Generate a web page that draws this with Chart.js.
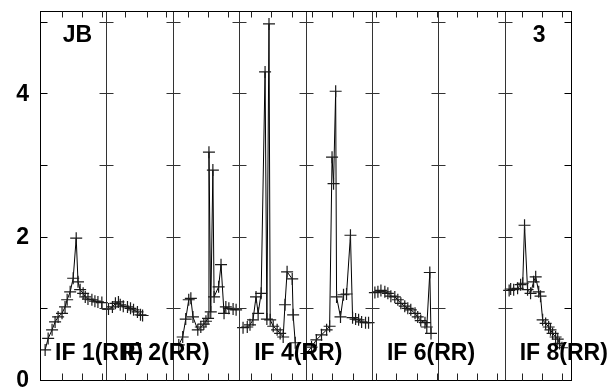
<!DOCTYPE html>
<html>
<head>
<meta charset="utf-8">
<script src="https://cdn.jsdelivr.net/npm/chart.js@4/dist/chart.umd.min.js"></script>
<style>
  html, body { margin: 0; padding: 0; background: #fff; }
  #wrap { width: 613px; height: 391px; }
</style>
</head>
<body>
<div id="wrap"><canvas id="c" width="613" height="391"></canvas></div>
<script>
// ---- data (channel within panel, amplitude) ----
const CH = 22;          // channels per IF panel
const NPANEL = 8;
const chan1 = [1.7,2.7,4,5,6,7.3,8.3,9,10,11,12,12.6,13.3,14.3,15,15.9,17.2,18.2,19.2,20.5];
const amp1  = [0.42,0.58,0.70,0.81,0.88,0.93,1.02,1.12,1.23,1.42,1.98,1.37,1.26,1.21,1.16,1.13,1.12,1.10,1.09,1.08];
const chan2 = [0.7,2,3,4,4.6,5.6,7,8,9,10.3,11.3,12];
const amp2  = [0.99,1.02,1.07,1.09,1.05,1.03,1.02,1.00,0.98,0.95,0.91,0.90];
const chan3 = [2,3.3,4.3,5.3,6,6.7,8.3,9.3,10.3,11,11.7,12,12.6,13.3,13.7,15.2,16,17,17.6,18.6,20,21];
const amp3  = [0.49,0.60,0.85,1.12,1.14,0.88,0.70,0.74,0.78,0.82,0.86,3.18,0.95,2.93,1.16,1.30,1.61,0.93,1.02,1.00,0.99,0.98];
const chan4 = [1.3,2.7,3.6,4.6,5.6,6.3,7.3,8.6,9.2,9.9,10.3,11.3,12.6,13.6,14.6,15.2,15.9,17.6,17.9,18.6];
const amp4  = [0.73,0.74,0.77,0.84,1.16,0.93,1.21,4.30,0.85,4.97,0.84,0.75,0.70,0.65,0.60,1.05,1.51,1.41,0.91,0.52];
const chan5 = [0.3,2,3.6,5.3,7,8,8.8,9.3,10,10.3,11.6,12.6,13.6,14.9,15.6,16.6,17.6,18.6,19.9,20.9];
const amp5  = [0.37,0.46,0.56,0.63,0.70,0.75,3.11,2.74,4.03,1.16,0.88,1.19,1.20,2.02,0.87,0.85,0.84,0.81,0.80,0.80];
const chan6 = [1,2,3,4.3,5.3,6.3,7.6,8.6,9.6,10.9,11.9,12.9,14.3,15.2,16.2,17.6,18.2,19.2,19.6];
const amp6  = [1.22,1.23,1.25,1.23,1.21,1.17,1.16,1.12,1.07,1.03,1.00,0.98,0.93,0.88,0.83,0.80,0.74,1.50,0.65];
const chan8 = [1.5,2,3,4.3,5.3,6,6.6,7.6,8.6,9.6,10.3,11.3,11.9,12.6,13.6,14.6,15.2,15.9,16.9,17.6,18.2,19];
const amp8  = [1.25,1.27,1.26,1.28,1.33,1.35,2.16,1.26,1.21,1.37,1.44,1.23,1.17,0.84,0.79,0.74,0.70,0.65,0.60,0.57,0.51,0.45];

const seriesPanels = [0, 1, 2, 3, 4, 5, 7];
const seriesChans  = [chan1, chan2, chan3, chan4, chan5, chan6, chan8];
const seriesAmps   = [amp1, amp2, amp3, amp4, amp5, amp6, amp8];

// labels
const ifLabels      = ["IF 1(RR)", "IF 2(RR)", "IF 4(RR)", "IF 6(RR)", "IF 8(RR)"];
const ifLabelPanels = [0, 1, 3, 5, 7];
const sourceLabel = "JB";
const sourceLabelPanel = 0;
const pageLabel = "3";
const pageLabelPanel = 7;

// y ticks
const yTicks      = [0, 1, 2, 3, 4, 5];
const yTickLabels = ["0", "", "2", "", "4", ""];
const yMax = 5.15;

// x minor tick positions (global channel units)
const xMinorTicks = [7.3,13.9,20.5,28.3,35.3,41.9,49,55.6,62.2,70,76.6,83.6,90,96.9,103.6,111.3,118,124.9,131.5,138.3,144.9,151.6,159.6,166.3,172.9];

const toPts = (p, ch, am) => ch.map((c, i) => ({ x: p * CH + c, y: am[i] }));

const datasets = seriesPanels.map((p, k) => ({
  data: toPts(p, seriesChans[k], seriesAmps[k]),
  borderColor: '#000',
  borderWidth: 1,
  pointStyle: 'cross',
  pointRadius: 6,
  pointBorderColor: '#1a1a1a',
  pointBorderWidth: 1.2,
  pointBackgroundColor: '#000',
  fill: false,
  tension: 0
}));
// connecting segment between IF 1 tail and IF 2 head (as in the reference trace)
const d1 = datasets[0].data, d2 = datasets[1].data;
datasets.push({
  data: [d1[d1.length - 1], d2[0]],
  borderColor: '#000', borderWidth: 1, pointRadius: 0, fill: false, tension: 0, stepped: 'after'
});

const FONT = 'bold 23px "Liberation Sans", Arial, sans-serif';

const framePlugin = {
  id: 'frame',
  afterDatasetsDraw(chart) {
    const { ctx, chartArea: a, scales: { x, y } } = chart;
    ctx.save();
    ctx.strokeStyle = '#000';
    ctx.lineWidth = 1;
    for (let p = 0; p <= NPANEL; p++) {
      const px = Math.round(x.getPixelForValue(p * CH)) + 0.5;
      ctx.strokeStyle = (p === 0 || p === NPANEL) ? '#000' : '#333';
      ctx.beginPath(); ctx.moveTo(px, a.top); ctx.lineTo(px, a.bottom); ctx.stroke();
      yTicks.forEach(v => {
        if (v === 0) return;
        const py = Math.round(y.getPixelForValue(v)) + 0.5;
        const l = p === 0 ? 0 : 7, r = p === NPANEL ? 0 : 7;
        ctx.beginPath(); ctx.moveTo(px - l, py); ctx.lineTo(px + r, py); ctx.stroke();
      });
    }
    ctx.strokeStyle = '#000';
    const topY = Math.round(a.top) + 0.5, botY = Math.round(a.bottom) + 0.5;
    ctx.beginPath(); ctx.moveTo(a.left, topY); ctx.lineTo(a.right + 1, topY); ctx.stroke();
    ctx.beginPath(); ctx.moveTo(a.left, botY); ctx.lineTo(a.right + 1, botY); ctx.stroke();
    ctx.strokeStyle = '#222';
    xMinorTicks.forEach(v => {
      const px = Math.round(x.getPixelForValue(v)) + 0.5;
      ctx.beginPath(); ctx.moveTo(px, topY); ctx.lineTo(px, topY + 6); ctx.stroke();
      ctx.beginPath(); ctx.moveTo(px, botY); ctx.lineTo(px, botY - 7); ctx.stroke();
    });
    ctx.fillStyle = '#000';
    ctx.font = FONT;
    ctx.textAlign = 'right';
    ctx.textBaseline = 'middle';
    yTicks.forEach((v, i) => {
      if (!yTickLabels[i]) return;
      ctx.fillText(yTickLabels[i], a.left - 11, y.getPixelForValue(v) + 1);
    });
    ctx.textAlign = 'left';
    ctx.textBaseline = 'alphabetic';
    ifLabels.forEach((t, i) => {
      ctx.fillText(t, x.getPixelForValue(ifLabelPanels[i] * CH + 5.0), y.getPixelForValue(0.28));
    });
    ctx.fillText(sourceLabel, x.getPixelForValue(sourceLabelPanel * CH + 7.5), y.getPixelForValue(4.72));
    ctx.fillText(pageLabel, x.getPixelForValue(pageLabelPanel * CH + 9.3), y.getPixelForValue(4.72));
    ctx.restore();
  }
};

new Chart(document.getElementById('c'), {
  type: 'line',
  data: { datasets },
  options: {
    responsive: false,
    animation: false,
    devicePixelRatio: 1,
    layout: { padding: { left: 40, right: 42, top: 11, bottom: 11 } },
    plugins: { legend: { display: false }, tooltip: { enabled: false } },
    scales: {
      x: { type: 'linear', min: 0, max: NPANEL * CH, display: false },
      y: { type: 'linear', min: 0, max: yMax, display: false }
    }
  },
  plugins: [framePlugin]
});
</script>
</body>
</html>
